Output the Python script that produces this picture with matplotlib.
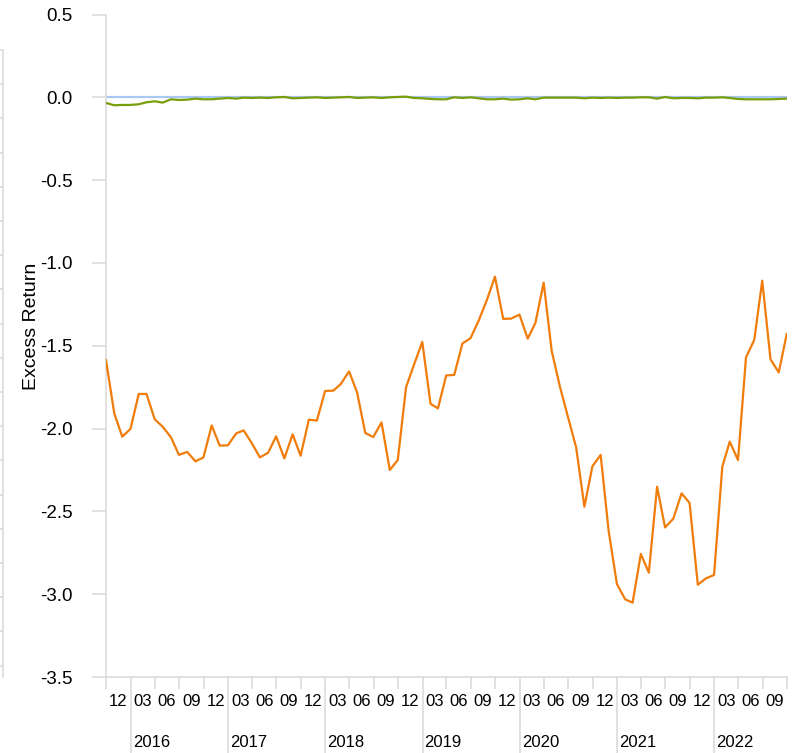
"""Excess return line chart, monthly, quarter/year two-level date axis"""

import matplotlib
matplotlib.use("Agg")
import matplotlib.pyplot as plt
import matplotlib.dates as mdates
import pandas as pd

# monthly month-end observations, Sep 2015 .. Sep 2022
dates = pd.date_range("2015-09-30", "2022-09-30", freq="ME")

portfolio = [
    -1.586, -1.908, -2.049, -2.002, -1.791, -1.791, -1.944, -1.989, -2.053, -2.159,
    -2.141, -2.198, -2.174, -1.981, -2.103, -2.101, -2.029, -2.011, -2.089, -2.174,
    -2.146, -2.047, -2.180, -2.035, -2.164, -1.946, -1.952, -1.773, -1.771, -1.731,
    -1.655, -1.781, -2.027, -2.051, -1.963, -2.250, -2.190, -1.751, -1.614, -1.477,
    -1.851, -1.878, -1.679, -1.676, -1.486, -1.455, -1.348, -1.222, -1.083, -1.338,
    -1.336, -1.312, -1.457, -1.362, -1.119, -1.530, -1.747, -1.928, -2.114, -2.472,
    -2.228, -2.159, -2.617, -2.938, -3.031, -3.051, -2.757, -2.870, -2.351, -2.597,
    -2.544, -2.391, -2.449, -2.943, -2.905, -2.884, -2.230, -2.079, -2.190, -1.570,
    -1.465, -1.107, -1.582, -1.661, -1.429,
]

tracking = [
    -0.034, -0.048, -0.046, -0.046, -0.042, -0.030, -0.024, -0.032, -0.012, -0.016,
    -0.014, -0.008, -0.012, -0.012, -0.008, -0.004, -0.008, -0.002, -0.004, -0.002,
    -0.004, 0.000, 0.002, -0.006, -0.004, -0.002, 0.000, -0.004, -0.002, 0.000,
    0.002, -0.004, -0.002, 0.000, -0.004, 0.000, 0.002, 0.004, -0.004, -0.006,
    -0.010, -0.012, -0.012, 0.000, -0.004, 0.000, -0.006, -0.012, -0.012, -0.008,
    -0.014, -0.012, -0.006, -0.012, -0.002, -0.002, -0.002, -0.002, -0.002, -0.006,
    -0.002, -0.004, -0.002, -0.004, -0.002, -0.002, 0.000, 0.000, -0.008, 0.002,
    -0.006, -0.004, -0.004, -0.006, -0.002, -0.002, 0.000, -0.004, -0.010, -0.012,
    -0.012, -0.012, -0.012, -0.010, -0.008,
]

benchmark = [0.0] * len(dates)

quarter_labels = {3: "03", 6: "06", 9: "09", 12: "12"}

GRID = "#d9d9d9"
FONT = "Liberation Sans"

plt.rcParams["font.family"] = [FONT, "DejaVu Sans"]

W, H = 803, 753
fig = plt.figure(figsize=(W / 100, H / 100), dpi=100)
fig.set_facecolor("white")

# main axes: pixel box x 106..787, y 14.5..677
ax = fig.add_axes([106 / W, 1 - 677 / H, 681 / W, (677 - 14.5) / H])

ax.plot(dates, benchmark, color="#a9c8f3", lw=1.6, zorder=2)
ax.plot(dates, tracking, color="#7a9e0b", lw=1.6, zorder=3)
ax.plot(dates, portfolio, color="#f07c0a", lw=1.6, zorder=4)

ax.set_ylim(-3.5, 0.5)
ax.set_yticks([-3.5, -3.0, -2.5, -2.0, -1.5, -1.0, -0.5, 0.0, 0.5])
ax.set_yticklabels([f"{v:.1f}" for v in ax.get_yticks()])
ax.tick_params(axis="y", length=10, width=1.1, color=GRID, pad=14,
               labelsize=13.5, labelcolor="black")
ax.set_ylabel("Excess Return", fontsize=14)
ax.yaxis.set_label_coords(-0.097, 0.53)

# x axis: quarter boundaries as short ticks, year starts as long ticks
q_starts = pd.date_range("2015-10-01", "2022-10-01", freq="QS")
year_starts = [d for d in q_starts if d.month == 1]
other_q = [d for d in q_starts if d.month != 1]
ax.set_xlim(mdates.date2num(pd.Timestamp("2015-09-30")),
            mdates.date2num(pd.Timestamp("2022-10-01")))
ax.set_xticks(mdates.date2num(year_starts))
ax.set_xticks(mdates.date2num(other_q), minor=True)
ax.set_xticklabels([])
ax.tick_params(axis="x", which="major", length=55, width=1.1, color=GRID)
ax.tick_params(axis="x", which="minor", length=8.6, width=1.1, color=GRID)

trans = ax.get_xaxis_transform()
for a, b in zip(q_starts[:-1], q_starts[1:]):
    mid = a + (b - a) / 2
    q_end = (b - pd.Timedelta(days=1)).month
    ax.annotate(quarter_labels[q_end], xy=(mdates.date2num(mid), 0), xycoords=trans,
                xytext=(0, -18), textcoords="offset points",
                ha="center", va="center", fontsize=12)
for d in year_starts:
    ax.annotate(str(d.year), xy=(mdates.date2num(d), 0), xycoords=trans,
                xytext=(1.5, -47), textcoords="offset points",
                ha="left", va="center", fontsize=12)

for side in ("top", "right"):
    ax.spines[side].set_visible(False)
for side in ("left", "bottom"):
    ax.spines[side].set_color(GRID)
    ax.spines[side].set_linewidth(1.1)

# cut-off neighbouring axis at the far left edge
ax2 = fig.add_axes([3 / W, 1 - 677 / H, 0.001, 627 / H])
ax2.set_ylim(-0.333, 18)
ax2.set_yticks(range(19))
ax2.set_yticklabels([])
ax2.set_xticks([])
for side in ("top", "right", "bottom"):
    ax2.spines[side].set_visible(False)
ax2.spines["left"].set_color(GRID)
ax2.spines["left"].set_linewidth(1.1)
ax2.tick_params(axis="y", length=2.5, width=1.1, color=GRID)
ax2.patch.set_visible(False)

fig.savefig("out.png", dpi=100)
